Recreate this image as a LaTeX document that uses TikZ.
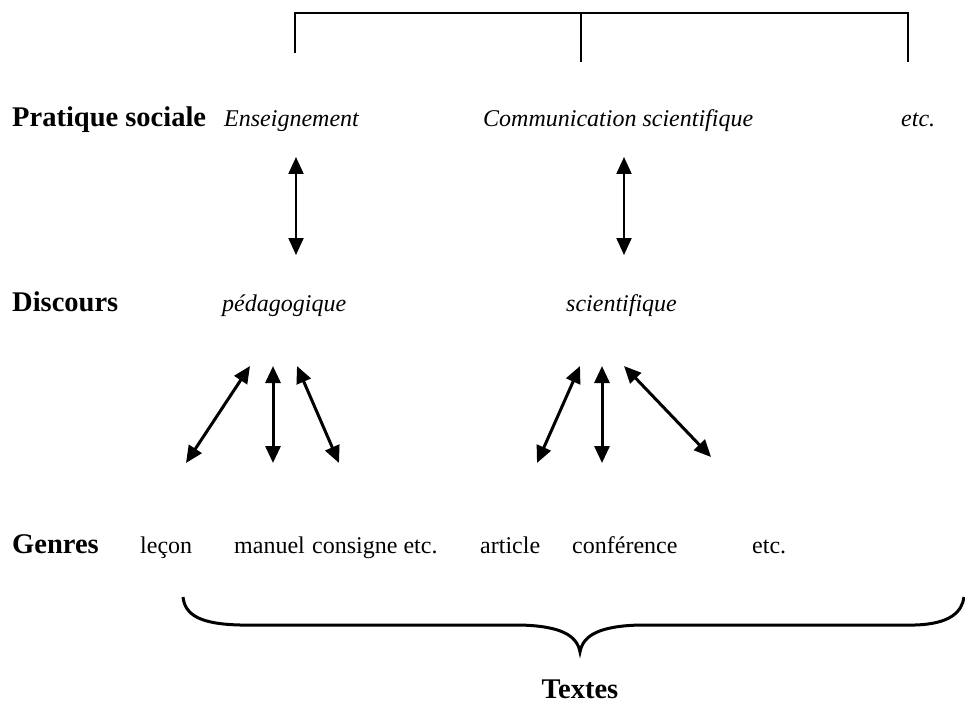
\documentclass[tikz,border=0pt]{standalone}
\usepackage{fontspec}
\setmainfont{Liberation Serif}
\usetikzlibrary{arrows.meta}
\tikzset{
  head/.style={font=\fontsize{28.5}{30}\selectfont\bfseries, anchor=base west, inner sep=0pt},
  item/.style={font=\fontsize{24}{26}\selectfont, anchor=base west, inner sep=0pt},
  itemit/.style={item, font=\fontsize{24}{26}\selectfont\itshape},
  bracket/.style={line width=2.6pt},
  link/.style={line width=2.2pt, {Triangle[length=17pt,width=15pt]}-{Triangle[length=17pt,width=15pt]}},
  linkb/.style={line width=3pt, {Triangle[length=17pt,width=15pt]}-{Triangle[length=17pt,width=15pt]}},
  brace/.style={line width=3pt}
}
\begin{document}
\begin{tikzpicture}[x=1pt,y=-1pt]
\useasboundingbox (0,0) rectangle (965,711);

% top bracket
\coordinate (bl) at (295,53);
\coordinate (blt) at (295,13);
\coordinate (bm) at (581,62);
\coordinate (bmt) at (581,13);
\coordinate (br) at (908,62);
\coordinate (brt) at (908,13);
\draw[bracket] (bl) -- (blt) -- (brt) -- (br);
\draw[bracket] (bmt) -- (bm);

% level 1
\node[head] (ps) at (12,127) {Pratique sociale};
\node[itemit] (ens) at (224,127) {Enseignement};
\node[itemit] (com) at (483,127) {Communication scientifique};
\node[itemit] (etca) at (901,127) {etc.};

% level 2
\node[head] (disc) at (12,311) {Discours};
\node[itemit] (ped) at (222,311) {pédagogique};
\node[itemit] (sci) at (566,311) {scientifique};

% level 3
\node[head] (gen) at (12,553) {Genres};
\node[item] (lecon) at (140,553) {leçon};
\node[item] (manuel) at (234,553) {manuel};
\node[item] (consigne) at (312,553) {consigne etc.};
\node[item] (article) at (480,553) {article};
\node[item] (conf) at (572,553) {conférence};
\node[item] (etcb) at (752,553) {etc.};

\node[head, anchor=base] (textes) at (580,698) {Textes};

% arrows between practice and discourse
\coordinate (p1) at (296,157);
\coordinate (d1) at (296,255);
\coordinate (p2) at (624,157);
\coordinate (d2) at (624,255);
\draw[link] (p1) -- (d1);
\draw[link] (p2) -- (d2);

% arrows between discourse and genres
\coordinate (u1) at (250,366);
\coordinate (g1) at (186,463);
\coordinate (u2) at (273,366);
\coordinate (g2) at (273,463);
\coordinate (u3) at (297,366);
\coordinate (g3) at (339,463);
\coordinate (u4) at (580,366);
\coordinate (g4) at (537,463);
\coordinate (u5) at (602,366);
\coordinate (g5) at (602,463);
\coordinate (u6) at (624,366);
\coordinate (g6) at (711,457);
\draw[linkb] (u1) -- (g1);
\draw[linkb] (u2) -- (g2);
\draw[linkb] (u3) -- (g3);
\draw[linkb] (u4) -- (g4);
\draw[linkb] (u5) -- (g5);
\draw[linkb] (u6) -- (g6);

% brace gathering the genres
\coordinate (bL) at (183,597);
\coordinate (bR) at (964,597);
\coordinate (bT) at (580,652);
\draw[brace] (bL) .. controls (185,615) and (200,624) .. (240,625)
  -- (520,625) .. controls (560,626) and (577,635) .. (bT)
  .. controls (583,635) and (600,626) .. (640,625)
  -- (915,625) .. controls (950,624) and (962,612) .. (bR);
\end{tikzpicture}
\end{document}
